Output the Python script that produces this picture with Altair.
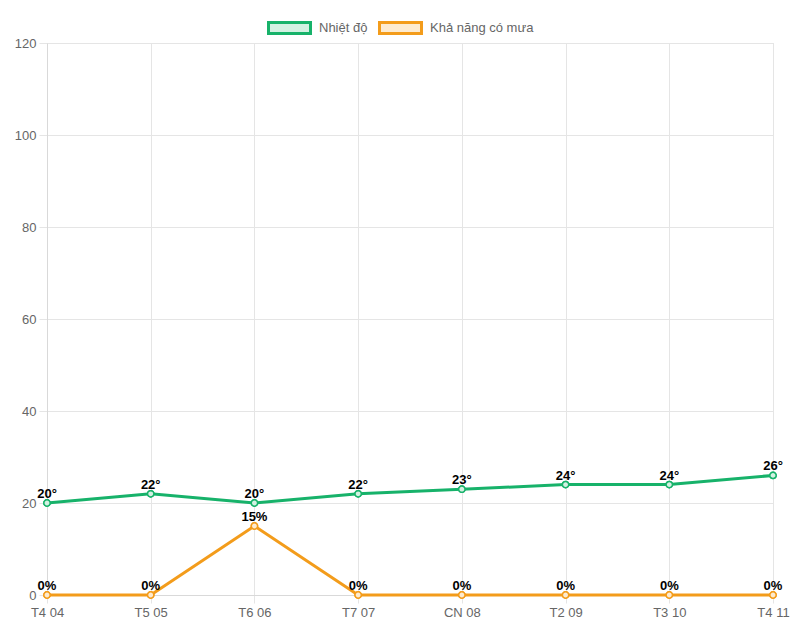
import altair as alt
import pandas as pd

days = ["T4 04", "T5 05", "T6 06", "T7 07", "CN 08", "T2 09", "T3 10", "T4 11"]
temp = [20, 22, 20, 22, 23, 24, 24, 26]
rain = [0, 0, 15, 0, 0, 0, 0, 0]
series = ["Nhiệt độ", "Khả năng có mưa"]
colors = ["#17b26a", "#f39c1b"]
light = ["#d3f1e2", "#fdebd0"]
y_ticks = [0, 20, 40, 60, 80, 100, 120]

rows = []
for d, t in zip(days, temp):
    rows.append({"day": d, "series": series[0], "value": t, "label": f"{t}°"})
for d, r in zip(days, rain):
    rows.append({"day": d, "series": series[1], "value": r, "label": f"{r}%"})
df = pd.DataFrame(rows)

FONT = "Liberation Sans"
grid = "#e5e5e5"

x = alt.X("day:N", sort=days, title=None,
          scale=alt.Scale(type="point", padding=0),
          axis=alt.Axis(labelAngle=0, grid=True, gridColor=grid, tickColor=grid,
                        domainColor="#d9d9d9", tickSize=8, labelPadding=3,
                        labelFont=FONT, labelFontSize=13, labelColor="#666"))
y = alt.Y("value:Q", title=None,
          scale=alt.Scale(domain=[0, 120], nice=False, zero=True),
          axis=alt.Axis(values=y_ticks, grid=True, gridColor=grid, tickColor=grid,
                        domainColor="#d9d9d9", tickSize=8, labelPadding=3,
                        labelFont=FONT, labelFontSize=13, labelColor="#666"))

def leg():
    return alt.Legend(
        title=None, orient="none", legendX=220, legendY=-38,
        direction="horizontal", padding=0,
        symbolType="M-1,-0.262H1V0.262H-1Z", symbolSize=1764,
        symbolStrokeWidth=3, symbolOpacity=1, labelOffset=7, columnPadding=5,
        labelFont=FONT, labelFontSize=13, labelColor="#666")

stroke = alt.Stroke("series:N", sort=series, scale=alt.Scale(domain=series, range=colors), legend=leg())
fill = alt.Fill("series:N", sort=series, scale=alt.Scale(domain=series, range=light), legend=leg())

base = alt.Chart(df).encode(x=x, y=y)

pts = base.mark_point(size=40, strokeWidth=1.5, opacity=1).encode(stroke=stroke, fill=fill)
line = base.mark_line(strokeWidth=3).encode(stroke=stroke)
labels = base.mark_text(dy=-9, font=FONT, fontSize=13, fontWeight="bold", color="#000").encode(
    text="label:N")

chart = alt.layer(pts, line, pts, labels).properties(
    width=726, height=552, autosize="none",
    padding={"left": 39, "top": 35, "right": 19, "bottom": 30},
).configure_view(stroke=None).configure(background="white")

chart.save("out.html", embed_options={"renderer": "svg", "actions": False})
